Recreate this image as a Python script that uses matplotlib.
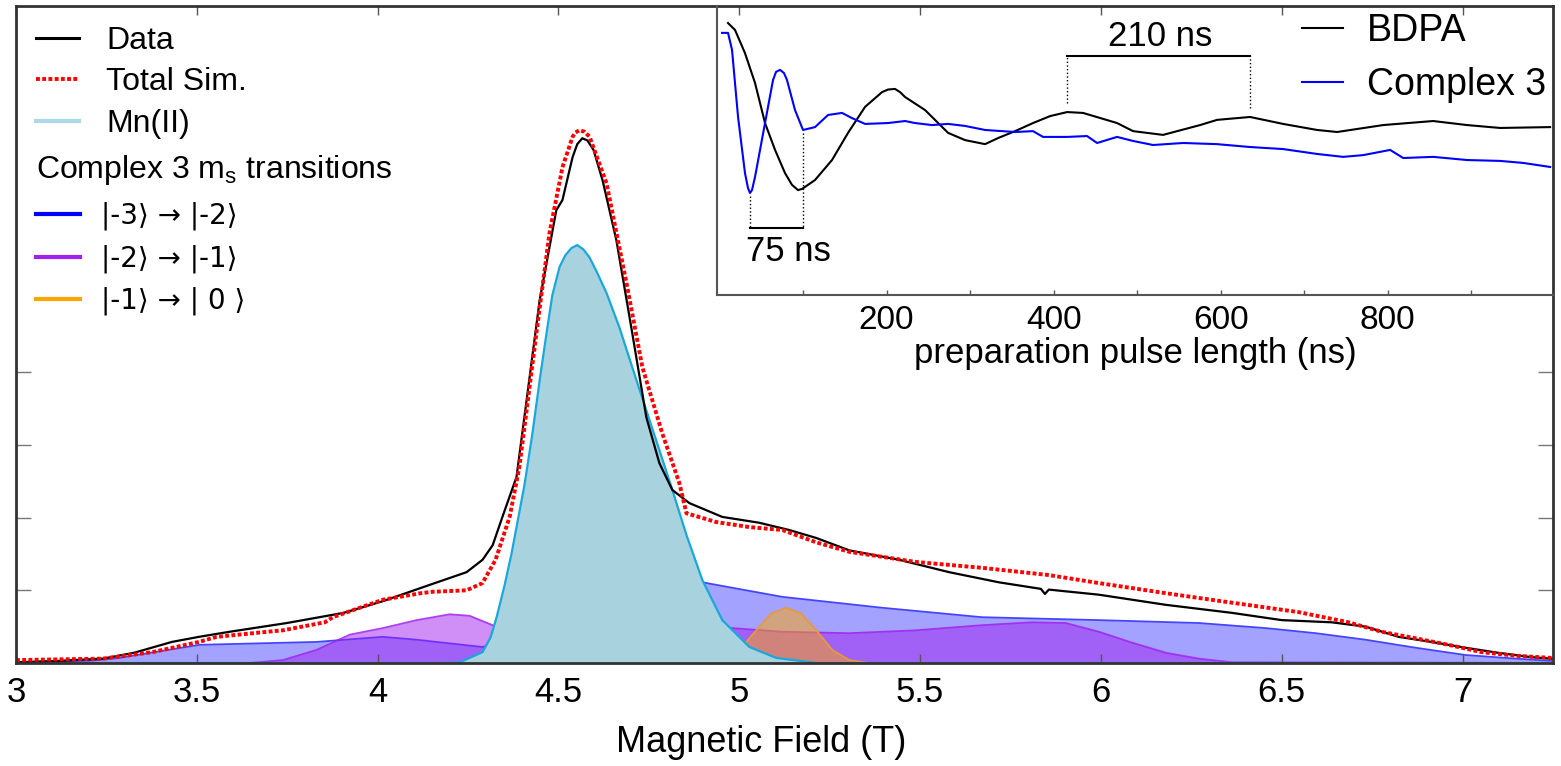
import numpy as np
import matplotlib.pyplot as plt
from matplotlib.lines import Line2D

plt.rcParams['font.family'] = ['Liberation Sans', 'DejaVu Sans']
plt.rcParams['mathtext.fontset'] = 'custom'
plt.rcParams['mathtext.rm'] = 'Liberation Sans'

# ---- main spectrum (field in T, intensity in arb. units) ----
field_data = [3.000, 3.122, 3.240, 3.326, 3.431, 3.506, 3.591, 3.749, 3.906, 4.014,
              4.141, 4.246, 4.290, 4.318, 4.345, 4.384, 4.412, 4.448, 4.494, 4.511,
              4.539, 4.552, 4.566, 4.580, 4.597, 4.622, 4.660, 4.704, 4.743, 4.779,
              4.815, 4.862, 4.953, 5.055, 5.138, 5.213, 5.304, 5.442, 5.580, 5.718,
              5.834, 5.845, 5.856, 5.994, 6.180, 6.362, 6.500, 6.638, 6.732, 6.823,
              6.914, 7.008, 7.099, 7.191, 7.246]
data = [0.001, 0.003, 0.006, 0.014, 0.029, 0.036, 0.043, 0.055, 0.069, 0.085,
        0.107, 0.125, 0.142, 0.162, 0.201, 0.256, 0.362, 0.499, 0.623, 0.637,
        0.696, 0.714, 0.722, 0.719, 0.706, 0.664, 0.582, 0.454, 0.338, 0.275,
        0.238, 0.220, 0.201, 0.193, 0.183, 0.172, 0.155, 0.142, 0.125, 0.111,
        0.102, 0.095, 0.101, 0.094, 0.080, 0.069, 0.059, 0.056, 0.050, 0.036,
        0.029, 0.021, 0.014, 0.008, 0.006]

field_sim = [3.000, 3.240, 3.378, 3.506, 3.555, 3.696, 3.738, 3.854, 3.876, 4.014,
             4.119, 4.152, 4.246, 4.290, 4.326, 4.365, 4.392, 4.439, 4.475, 4.511,
             4.539, 4.547, 4.558, 4.572, 4.586, 4.633, 4.688, 4.732, 4.787, 4.834,
             4.854, 4.936, 5.028, 5.119, 5.213, 5.304, 5.489, 5.671, 5.856, 5.994,
             6.180, 6.362, 6.547, 6.685, 6.776, 6.870, 6.961, 7.052, 7.147, 7.246]
total_sim = [0.004, 0.006, 0.015, 0.029, 0.036, 0.043, 0.045, 0.056, 0.063, 0.087,
             0.096, 0.098, 0.100, 0.110, 0.142, 0.201, 0.270, 0.454, 0.591, 0.682,
             0.724, 0.730, 0.733, 0.731, 0.724, 0.660, 0.523, 0.407, 0.316, 0.248,
             0.206, 0.194, 0.187, 0.183, 0.166, 0.153, 0.139, 0.131, 0.121, 0.110,
             0.096, 0.083, 0.070, 0.056, 0.043, 0.034, 0.025, 0.015, 0.010, 0.007]

field_mn = [3.000, 4.171, 4.227, 4.290, 4.312, 4.329, 4.351, 4.370, 4.389, 4.406,
            4.428, 4.448, 4.467, 4.483, 4.503, 4.519, 4.536, 4.552, 4.569, 4.586,
            4.608, 4.633, 4.669, 4.704, 4.740, 4.779, 4.815, 4.854, 4.898, 4.953,
            5.028, 5.102, 5.213, 7.250]
mn_ii = [0.000, 0.000, 0.001, 0.015, 0.035, 0.063, 0.107, 0.150, 0.200, 0.245,
         0.316, 0.389, 0.454, 0.506, 0.545, 0.561, 0.571, 0.575, 0.569, 0.558,
         0.536, 0.509, 0.461, 0.407, 0.352, 0.293, 0.238, 0.176, 0.114, 0.059,
         0.022, 0.007, 0.000, 0.000]

field_m3 = [3.000, 3.204, 3.287, 3.370, 3.508, 3.831, 4.014, 4.108, 4.290, 4.503,
            4.724, 4.890, 4.909, 5.119, 5.395, 5.671, 5.994, 6.271, 6.456, 6.594,
            6.732, 6.870, 7.008, 7.147, 7.246]
trans_m3 = [0.001, 0.003, 0.007, 0.014, 0.025, 0.029, 0.036, 0.032, 0.022, 0.050,
            0.090, 0.112, 0.110, 0.091, 0.076, 0.063, 0.059, 0.055, 0.048, 0.041,
            0.032, 0.021, 0.011, 0.006, 0.003]

field_m2 = [3.000, 3.646, 3.738, 3.831, 3.923, 4.014, 4.108, 4.199, 4.254, 4.318,
            4.503, 4.700, 4.981, 5.119, 5.304, 5.489, 5.671, 5.809, 5.903, 5.994,
            6.086, 6.180, 6.271, 6.362, 7.250]
trans_m2 = [0.000, 0.000, 0.004, 0.018, 0.039, 0.048, 0.059, 0.067, 0.065, 0.052,
            0.044, 0.043, 0.048, 0.043, 0.041, 0.045, 0.052, 0.056, 0.055, 0.043,
            0.028, 0.014, 0.006, 0.001, 0.000]

field_m1 = [3.000, 4.890, 4.953, 5.000, 5.047, 5.088, 5.130, 5.171, 5.213, 5.257,
            5.304, 5.359, 7.250]
trans_m1 = [0.000, 0.000, 0.004, 0.018, 0.045, 0.068, 0.076, 0.068, 0.045, 0.018,
            0.004, 0.000, 0.000]

field_ticks = [3, 3.5, 4, 4.5, 5, 5.5, 6, 6.5, 7]
field_tick_labels = ['3', '3.5', '4', '4.5', '5', '5.5', '6', '6.5', '7']

# ---- inset: nutation traces (time in ns, normalised signal) ----
t_bdpa = [10.2, 18.6, 30.5, 42.5, 54.5, 66.5, 78.4, 86.8, 94.0, 98.8,
          102.4, 114.4, 134.7, 153.9, 174.3, 194.6, 201.8, 210.2, 216.2, 222.2,
          246.1, 273.7, 294.0, 318.0, 333.5, 353.9, 375.4, 395.8, 416.2, 435.3,
          476.0, 495.2, 531.1, 575.4, 595.8, 635.3, 674.8, 715.6, 739.5, 794.6,
          854.5, 895.2, 934.7, 994.6]
bdpa = [0.941, 0.917, 0.837, 0.734, 0.595, 0.502, 0.422, 0.381, 0.363, 0.367,
        0.374, 0.398, 0.467, 0.561, 0.651, 0.702, 0.711, 0.713, 0.702, 0.685,
        0.640, 0.561, 0.536, 0.522, 0.543, 0.567, 0.595, 0.619, 0.633, 0.630,
        0.595, 0.567, 0.554, 0.588, 0.606, 0.616, 0.592, 0.571, 0.564, 0.588,
        0.602, 0.588, 0.578, 0.581]

t_c3 = [3.0, 10.2, 15.0, 22.2, 30.5, 34.1, 36.5, 38.9, 42.5, 54.5,
        64.1, 67.7, 72.5, 77.2, 80.8, 90.4, 100.0, 114.4, 130.0, 146.7,
        158.7, 174.3, 201.8, 222.2, 234.1, 254.5, 273.7, 294.0, 318.0, 353.9,
        375.4, 387.4, 416.2, 440.1, 452.1, 476.0, 495.2, 519.2, 555.1, 595.8,
        635.3, 674.8, 715.6, 746.7, 770.7, 803.0, 818.6, 854.5, 895.2, 934.7,
        962.3, 994.6]
complex3 = [0.907, 0.907, 0.848, 0.616, 0.422, 0.370, 0.353, 0.363, 0.408, 0.595,
            0.744, 0.772, 0.779, 0.768, 0.744, 0.640, 0.571, 0.581, 0.623, 0.630,
            0.612, 0.592, 0.595, 0.602, 0.595, 0.588, 0.592, 0.585, 0.571, 0.564,
            0.567, 0.547, 0.547, 0.550, 0.526, 0.547, 0.533, 0.519, 0.526, 0.522,
            0.512, 0.505, 0.488, 0.478, 0.484, 0.502, 0.474, 0.478, 0.467, 0.464,
            0.457, 0.443]

# period markers (ns)
period_c3 = [36.5, 100.0]
period_bdpa = [416.2, 635.3]

# ---------------------------------------------------------------
fig = plt.figure(figsize=(15.61, 7.66), dpi=100)
ax = fig.add_axes([16 / 1561, 103 / 766, 1537 / 1561, 657 / 766])

ax.fill_between(field_m3, 0, trans_m3, color='blue', alpha=0.36, lw=0, zorder=1.0)
ax.plot(field_m3, trans_m3, color='#4444ff', lw=1.3, zorder=1.1)
ax.fill_between(field_m2, 0, trans_m2, color='#a020f0', alpha=0.5, lw=0, zorder=1.2)
ax.plot(field_m2, trans_m2, color='#a020f0', alpha=0.85, lw=1.3, zorder=1.3)
ax.fill_between(field_m1, 0, trans_m1, color='#ffa500', alpha=0.5, lw=0, zorder=1.4)
ax.plot(field_m1, trans_m1, color='#e89a3a', lw=1.3, zorder=1.5)
ax.fill_between(field_mn, 0, mn_ii, color='#a8d3de', lw=0, zorder=1.6)
ax.plot(field_mn, mn_ii, color='#1aa7dc', lw=1.6, zorder=1.7)
ax.plot(field_data, data, color='black', lw=1.6, zorder=2.0)
ax.plot(field_sim, total_sim, color='red', lw=2.8, linestyle=(0, (1, 0.6)), zorder=2.1)

ax.set_xlim(3, 7.25)
ax.set_ylim(0, 0.904)
ax.set_xticks(field_ticks, field_tick_labels)
ax.set_yticks([0.1, 0.2, 0.3, 0.4])
ax.tick_params(axis='x', direction='in', length=6.5, width=1, color='#555',
               top=True, labelsize=25, pad=9)
ax.tick_params(axis='y', direction='in', length=11, width=1, color='#777',
               right=True, labelleft=False)
for s in ax.spines.values():
    s.set_linewidth(2)
    s.set_color('#333333')
ax.set_xlabel('Magnetic Field (T)', fontsize=26)
ax.xaxis.set_label_coords(0.485, -0.094)

h_data = Line2D([], [], color='black', lw=2.2)
h_sim = Line2D([], [], color='red', lw=2.8, linestyle=(0, (1, 0.6)))
h_mn = Line2D([], [], color='#add8e6', lw=3)
leg1 = ax.legend([h_data, h_sim, h_mn], ['Data', 'Total Sim.', 'Mn(II)'],
                 loc='upper left', bbox_to_anchor=(0.013, 0.9696), frameon=False,
                 fontsize=23, handlelength=1.35, handletextpad=0.85,
                 labelspacing=0.36, borderpad=0, borderaxespad=0)
ax.add_artist(leg1)
h_m3 = Line2D([], [], color='blue', lw=3)
h_m2 = Line2D([], [], color='#a020f0', lw=3)
h_m1 = Line2D([], [], color='#ffa500', lw=3)
ax.legend([h_m3, h_m2, h_m1],
          ['|-3\u27e9 \u2192 |-2\u27e9', '|-2\u27e9 \u2192 |-1\u27e9', '|-1\u27e9 \u2192 | 0 \u27e9'],
          title='Complex 3 m$_\\mathrm{s}$ transitions', title_fontsize=23,
          alignment='left', loc='upper left', bbox_to_anchor=(0.013, 0.7755),
          frameon=False, prop={'family': 'DejaVu Sans', 'size': 20},
          handlelength=1.6, handletextpad=0.75,
          labelspacing=0.51, borderpad=0, borderaxespad=0)

# ---- inset ----
ins = fig.add_axes([717 / 1561, 471 / 766, 836 / 1561, 289 / 766])
ins.set_facecolor('none')
ins.plot(t_bdpa, bdpa, color='black', lw=1.5, label='BDPA')
ins.plot(t_c3, complex3, color='blue', lw=1.5, label='Complex 3')

y_br = 0.232
for t in period_c3:
    ins.plot([t, t], [np.interp(t, t_c3, complex3) - 0.01, y_br], color='black', lw=1, ls=':')
ins.plot(period_c3, [y_br, y_br], color='black', lw=1.5)
ins.text(82, 0.152, '75 ns', ha='center', va='center', fontsize=25)

y_br2 = 0.827
for t in period_bdpa:
    ins.plot([t, t], [np.interp(t, t_bdpa, bdpa) + 0.03, y_br2], color='black', lw=1, ls=':')
ins.plot(period_bdpa, [y_br2, y_br2], color='black', lw=1.5)
ins.text(527.5, 0.893, '210 ns', ha='center', va='center', fontsize=25)

ins.set_xlim(-3, 998)
ins.set_ylim(0, 1)
ins.set_xticks([200, 400, 600, 800])
ins.set_xticks(np.arange(100, 1000, 100), minor=True)
ins.tick_params(axis='x', which='both', direction='in', length=3.6, width=1,
                color='#555', labelsize=24, pad=7)
ins.set_yticks([])
ins.spines['top'].set_visible(False)
ins.spines['right'].set_visible(False)
for side in ['left', 'bottom']:
    ins.spines[side].set_color('#555555')
    ins.spines[side].set_linewidth(1.5)
ins.set_xlabel('preparation pulse length (ns)', fontsize=25)
ins.xaxis.set_label_coords(0.5, -0.145)
ins.legend(loc='upper right', fontsize=27, frameon=False, handlelength=1.1,
           handletextpad=0.64, labelspacing=0.48, borderpad=0, borderaxespad=0.18)

fig.savefig('out.png', dpi=100)
